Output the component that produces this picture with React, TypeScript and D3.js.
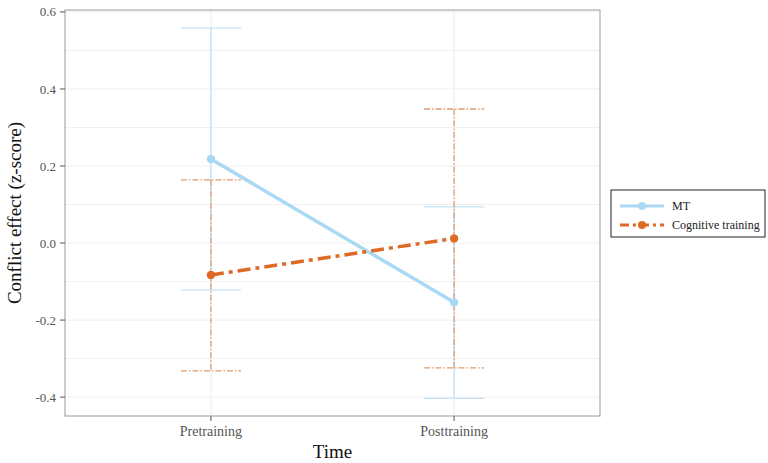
import React from "react";
import * as d3 from "d3";

const times = ["Pretraining", "Posttraining"];
const groups = ["MT", "Cognitive training"];
const mtMean = [0.218, -0.154];
const mtUpper = [0.558, 0.094];
const mtLower = [-0.122, -0.403];
const cogMean = [-0.083, 0.012];
const cogUpper = [0.164, 0.348];
const cogLower = [-0.332, -0.324];
const yTicks = [-0.4, -0.2, 0.0, 0.2, 0.4, 0.6];

const W = 768;
const H = 463;
const margin = { top: 10, right: 168, bottom: 47, left: 65 };
const innerW = W - margin.left - margin.right;
const innerH = H - margin.top - margin.bottom;

const blue = "#a9d9f4";
const blueLight = "#c4e4f7";
const orange = "#de6a26";
const orangeLight = "#e49a6c";
const serif = "'Liberation Serif', 'DejaVu Serif', serif";

const App = () => {
  const x = d3.scalePoint().domain(times).range([0, innerW]).padding(0.6);
  const y = d3.scaleLinear().domain([-0.449, 0.605]).range([innerH, 0]);

  const series = [
    { name: groups[0], mean: mtMean, up: mtUpper, lo: mtLower, c: blue, cl: blueLight, dash: null, edash: null },
    { name: groups[1], mean: cogMean, up: cogUpper, lo: cogLower, c: orange, cl: orangeLight, dash: "13,5,4,5", edash: "6,2,1.5,2" },
  ];

  const line = d3
    .line<number>()
    .x((d, i) => x(times[i]) as number)
    .y((d) => y(d));

  const minor = d3.range(-0.4, 0.61, 0.1);
  const capHalf = 30;

  return (
    <svg width={W} height={H} style={{ position: "absolute", left: 0, top: 0 }}>
      <g transform={`translate(${margin.left},${margin.top})`}>
        {/* grid */}
        {minor.map((v, i) => (
          <line key={"m" + i} x1={0} x2={innerW} y1={y(v)} y2={y(v)} stroke="#f0f0f0" strokeWidth={1} />
        ))}
        {times.map((t) => (
          <line key={t} x1={x(t)} x2={x(t)} y1={0} y2={innerH} stroke="#ececec" strokeWidth={1} />
        ))}

        {/* error bars */}
        {series.map((s) =>
          times.map((t, i) => {
            const cx = x(t) as number;
            return (
              <g key={s.name + t} stroke={s.cl} strokeWidth={1.3} strokeDasharray={s.edash || undefined} fill="none">
                <line x1={cx} x2={cx} y1={y(s.up[i])} y2={y(s.lo[i])} />
                <line x1={cx - capHalf} x2={cx + capHalf} y1={y(s.up[i])} y2={y(s.up[i])} />
                <line x1={cx - capHalf} x2={cx + capHalf} y1={y(s.lo[i])} y2={y(s.lo[i])} />
              </g>
            );
          })
        )}

        {/* lines */}
        {series.map((s) => (
          <g key={s.name}>
            <path d={line(s.mean) || ""} stroke={s.c} strokeWidth={3.5} fill="none" strokeDasharray={s.dash || undefined} />
            {s.mean.map((v, i) => (
              <circle key={i} cx={x(times[i])} cy={y(v)} r={4.2} fill={s.c} />
            ))}
          </g>
        ))}

        {/* frame */}
        <rect x={0} y={0} width={innerW} height={innerH} fill="none" stroke="#9a9a9a" strokeWidth={1} />

        {/* y axis */}
        {yTicks.map((v) => (
          <g key={v} transform={`translate(0,${y(v)})`}>
            <line x1={-5} x2={0} stroke="#555" />
            <text x={-9} dy="0.35em" textAnchor="end" fontFamily={serif} fontSize={13} fill="#555">
              {v.toFixed(1)}
            </text>
          </g>
        ))}

        {/* x axis */}
        {times.map((t) => (
          <g key={t} transform={`translate(${x(t)},${innerH})`}>
            <line y1={0} y2={5} stroke="#555" />
            <text y={20} textAnchor="middle" fontFamily={serif} fontSize={14} fill="#555">
              {t}
            </text>
          </g>
        ))}

        <text x={innerW / 2} y={innerH + 42} textAnchor="middle" fontFamily={serif} fontSize={19} fill="#111">
          Time
        </text>
        <text
          transform={`translate(${-44},${innerH / 2}) rotate(-90)`}
          textAnchor="middle"
          fontFamily={serif}
          fontSize={19}
          fill="#111"
        >
          Conflict effect (z-score)
        </text>
      </g>

      {/* legend */}
      <g transform="translate(611,190)">
        <rect x={0} y={0} width={154} height={47} fill="#fff" stroke="#222" strokeWidth={1} />
        {series.map((s, i) => (
          <g key={s.name} transform={`translate(0,${16 + i * 19})`}>
            <line x1={9} x2={53} y1={0} y2={0} stroke={s.c} strokeWidth={3} strokeDasharray={s.dash ? "9,4,3,4" : undefined} />
            <circle cx={31} cy={0} r={4} fill={s.c} />
            <text x={61} dy="0.35em" fontFamily={serif} fontSize={12} fill="#222">
              {s.name}
            </text>
          </g>
        ))}
      </g>
    </svg>
  );
};

export default App;
